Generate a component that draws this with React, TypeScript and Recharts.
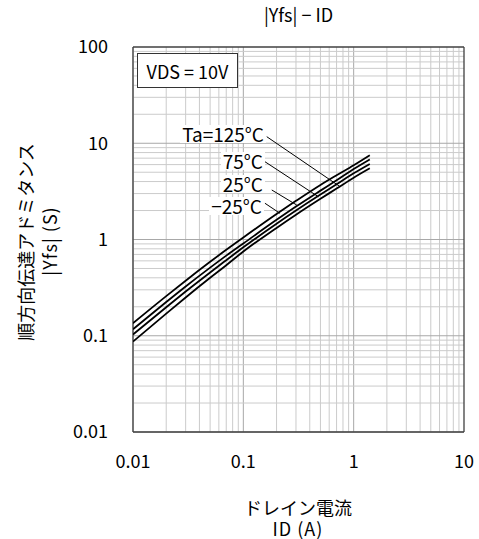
import React from 'react';
import { LineChart, Line, XAxis, YAxis, ReferenceLine } from 'recharts';

// drain current ID (A)
const idValues = [0.01, 0.02, 0.03, 0.05, 0.07, 0.1, 0.2, 0.3, 0.5, 0.7, 1, 1.4];
// |Yfs| (S) for each ambient temperature
const yfsM25 = [0.135, 0.258, 0.373, 0.586, 0.782, 1.05, 1.84, 2.52, 3.69, 4.65, 5.9, 7.5];
const yfs25 = [0.117, 0.224, 0.325, 0.51, 0.68, 0.91, 1.6, 2.2, 3.22, 4.12, 5.4, 6.8];
const yfs75 = [0.103, 0.198, 0.288, 0.455, 0.61, 0.83, 1.46, 2.0, 2.93, 3.74, 4.87, 6.1];
const yfs125 = [0.087, 0.17, 0.25, 0.4, 0.54, 0.75, 1.32, 1.81, 2.65, 3.38, 4.39, 5.5];

const xTicks = [0.01, 0.1, 1, 10];
const yTicks = [0.01, 0.1, 1, 10, 100];

// leader lines from each label to its curve [x1, y1, x2, y2]
const leaders = [
  { name: 'Ta=125°C', seg: [0.163, 11.7, 0.753, 3.54] },
  { name: '75°C', seg: [0.157, 6.43, 0.479, 2.78] },
  { name: '25°C', seg: [0.181, 3.27, 0.305, 2.28] },
  { name: '−25°C', seg: [0.157, 2.38, 0.215, 1.87] },
];

const data = idValues.map((x, i) => ({
  x,
  m25: yfsM25[i],
  t25: yfs25[i],
  t75: yfs75[i],
  t125: yfs125[i],
}));

const decadeLines = (lo: number, hi: number) => {
  const out: number[] = [];
  for (let d = lo; d < hi; d++) {
    for (let k = 1; k <= 9; k++) out.push(Number((k * Math.pow(10, d)).toPrecision(3)));
  }
  return out;
};
const gridX = decadeLines(-2, 1);
const gridY = decadeLines(-2, 2);
const isDecade = (v: number) => Math.abs(Math.log10(v) - Math.round(Math.log10(v))) < 1e-6;

const FONT = '"Noto Sans CJK JP", "Noto Sans", sans-serif';
const tickStyle = { fontSize: 18, fill: '#000', fontFamily: FONT };

const curveLabels = [
  { text: 'Ta=125°C', right: 266, cy: 134 },
  { text: '75°C', right: 265, cy: 161 },
  { text: '25°C', right: 265, cy: 184 },
  { text: '−25°C', right: 264, cy: 206 },
];

const abs = (style: React.CSSProperties): React.CSSProperties => ({
  position: 'absolute',
  fontFamily: FONT,
  fontSize: 18,
  color: '#000',
  whiteSpace: 'nowrap',
  lineHeight: '18px',
  height: 18,
  ...style,
});

export default function App() {
  return (
    <div style={{ position: 'absolute', left: 0, top: 0, width: 479, height: 539, background: '#fff', overflow: 'hidden' }}>
      <LineChart width={479} height={539} data={data} margin={{ top: 47, right: 15, bottom: 0, left: 0 }}>
        <XAxis
          dataKey="x"
          type="number"
          scale="log"
          domain={[0.01, 10]}
          ticks={xTicks}
          allowDataOverflow
          height={107}
          axisLine={false}
          tickLine={false}
          tickSize={0}
          tickMargin={23}
          tick={tickStyle}
        />
        <YAxis
          type="number"
          scale="log"
          domain={[0.01, 100]}
          ticks={yTicks}
          allowDataOverflow
          width={133}
          axisLine={false}
          tickLine={false}
          tickSize={0}
          tickMargin={25}
          tick={tickStyle}
        />
        {gridX.map((v) => (
          <ReferenceLine key={'gx' + v} x={v} stroke={isDecade(v) ? '#a8a8a8' : '#cbcbcb'} strokeWidth={1} />
        ))}
        {gridY.map((v) => (
          <ReferenceLine key={'gy' + v} y={v} stroke={isDecade(v) ? '#a8a8a8' : '#cbcbcb'} strokeWidth={1} />
        ))}
        <ReferenceLine x={0.01} stroke="#404040" strokeWidth={1.3} />
        <ReferenceLine x={10} stroke="#404040" strokeWidth={1.3} />
        <ReferenceLine y={0.01} stroke="#404040" strokeWidth={1.3} />
        <ReferenceLine y={100} stroke="#404040" strokeWidth={1.3} />
        {leaders.map((l) => (
          <ReferenceLine
            key={l.name}
            segment={[{ x: l.seg[0], y: l.seg[1] }, { x: l.seg[2], y: l.seg[3] }]}
            stroke="#000"
            strokeWidth={1}
          />
        ))}
        <Line dataKey="m25" type="monotone" stroke="#000" strokeWidth={1.8} dot={false} isAnimationActive={false} />
        <Line dataKey="t25" type="monotone" stroke="#000" strokeWidth={1.8} dot={false} isAnimationActive={false} />
        <Line dataKey="t75" type="monotone" stroke="#000" strokeWidth={1.8} dot={false} isAnimationActive={false} />
        <Line dataKey="t125" type="monotone" stroke="#000" strokeWidth={1.8} dot={false} isAnimationActive={false} />
      </LineChart>

      {/* title */}
      <div style={abs({ left: 298.5, top: 14, transform: 'translate(-50%, -50%)' })}>|Yfs| − ID</div>

      {/* condition box */}
      <div
        style={abs({
          left: 137,
          top: 53,
          width: 101,
          height: 35,
          boxSizing: 'border-box',
          border: '1px solid #333',
          background: '#fff',
          display: 'flex',
          alignItems: 'center',
          justifyContent: 'center',
        })}
      >
        VDS = 10V
      </div>

      {/* curve labels */}
      {curveLabels.map((c) => (
        <div
          key={c.text}
          style={abs({
            right: 479 - c.right,
            top: c.cy,
            transform: 'translateY(-50%)',
            background: '#fff',
            padding: '0 2px',
            fontSize: 19,
          })}
        >
          {c.text}
        </div>
      ))}

      {/* x axis title */}
      <div style={abs({ left: 298, top: 507, transform: 'translate(-50%, -50%)' })}>ドレイン電流</div>
      <div style={abs({ left: 298, top: 528, transform: 'translate(-50%, -50%)', letterSpacing: 1 })}>ID (A)</div>

      {/* y axis title */}
      <div style={abs({ left: 25, top: 241.5, transform: 'translate(-50%, -50%) rotate(-90deg)' })}>
        順方向伝達アドミタンス
      </div>
      <div style={abs({ left: 48.5, top: 241, transform: 'translate(-50%, -50%) rotate(-90deg)', letterSpacing: 1 })}>
        |Yfs| (S)
      </div>
    </div>
  );
}
